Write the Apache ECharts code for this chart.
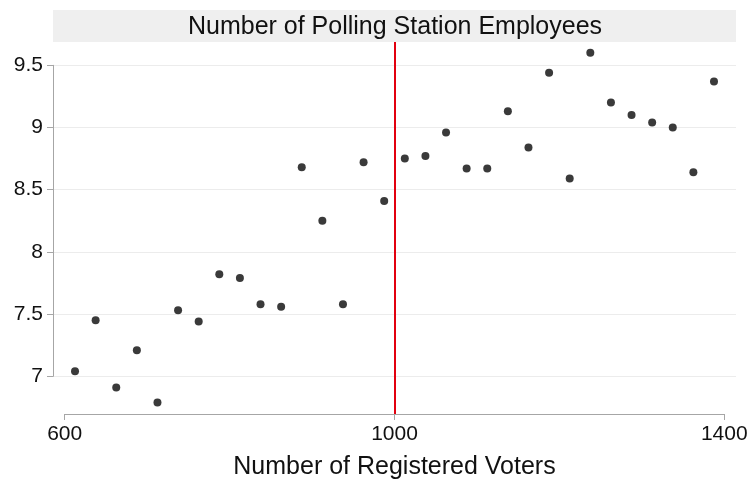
<!DOCTYPE html>
<html>
<head>
<meta charset="utf-8">
<script src="https://cdn.jsdelivr.net/npm/echarts@6/dist/echarts.min.js"></script>
<style>
html,body{margin:0;padding:0;background:#fff;}
#chart{width:750px;height:479px;}
</style>
</head>
<body>
<div id="chart"></div>
<script>
// Data
var registeredVoters = [612.5, 637.5, 662.5, 687.5, 712.5, 737.5, 762.5, 787.5, 812.5, 837.5,
  862.5, 887.5, 912.5, 937.5, 962.5, 987.5, 1012.5, 1037.5, 1062.5, 1087.5,
  1112.5, 1137.5, 1162.5, 1187.5, 1212.5, 1237.5, 1262.5, 1287.5, 1312.5, 1337.5,
  1362.5, 1387.5];
var employees = [7.04, 7.45, 6.91, 7.21, 6.79, 7.53, 7.44, 7.82, 7.79, 7.58,
  7.56, 8.68, 8.25, 7.58, 8.72, 8.41, 8.75, 8.77, 8.96, 8.67,
  8.67, 9.13, 8.84, 9.44, 8.59, 9.60, 9.20, 9.10, 9.04, 9.00,
  8.64, 9.37];
var cutoff = 1000;
var xTicks = [600, 1000, 1400];
var yTicks = [7, 7.5, 8, 8.5, 9, 9.5];
var titleText = 'Number of Polling Station Employees';
var xTitle = 'Number of Registered Voters';

var points = registeredVoters.map(function (x, i) { return [x, employees[i]]; });

var FONT = '"Liberation Sans", Arial, Helvetica, sans-serif';
var chart = echarts.init(document.getElementById('chart'), null, {renderer: 'canvas'});
var axisGray = '#a6a6a6';

var option = {
  animation: false,
  backgroundColor: '#ffffff',
  title: {
    text: titleText,
    left: 395, top: 15, padding: 0, textAlign: 'center',
    textStyle: {fontFamily: FONT, fontSize: 25, fontWeight: 'normal', color: '#111'}
  },
  graphic: [{
    type: 'rect', z: -1,
    shape: {x: 53, y: 10, width: 683, height: 32},
    style: {fill: '#efefef'}
  }],
  grid: [
    {left: 53, right: 14, top: 42, bottom: 65, outerBoundsMode: 'none', containLabel: false},
    {left: 64.7, right: 25.7, top: 42, bottom: 65, outerBoundsMode: 'none', containLabel: false},
    {left: 53, right: 14, top: 65.3, bottom: 102.7, outerBoundsMode: 'none', containLabel: false}
  ],
  xAxis: [
    {gridIndex: 0, type: 'value', min: 585.8, max: 1414.2, show: false},
    {gridIndex: 1, type: 'value', min: xTicks[0], max: xTicks[xTicks.length - 1], interval: xTicks[1] - xTicks[0],
      axisLine: {show: true, lineStyle: {color: axisGray, width: 1}},
      axisTick: {show: true, length: 6, lineStyle: {color: axisGray}},
      axisLabel: {fontFamily: FONT, fontSize: 21, color: '#111', margin: 10,
        formatter: function (v) { return String(v); }},
      splitLine: {show: false},
      name: xTitle, nameLocation: 'middle', nameGap: 41,
      nameTextStyle: {fontFamily: FONT, fontSize: 25, color: '#111'}
    },
    {gridIndex: 2, type: 'value', min: 585.8, max: 1414.2, show: false}
  ],
  yAxis: [
    {gridIndex: 0, type: 'value', min: 6.697, max: 9.687, show: false},
    {gridIndex: 1, type: 'value', min: 0, max: 1, show: false},
    {gridIndex: 2, type: 'value', min: yTicks[0], max: yTicks[yTicks.length - 1], interval: yTicks[1] - yTicks[0],
      axisLine: {show: true, lineStyle: {color: axisGray, width: 1}},
      axisTick: {show: true, length: 6, lineStyle: {color: axisGray}},
      axisLabel: {fontFamily: FONT, fontSize: 21, color: '#111', margin: 10,
        formatter: function (v) { return String(v); }},
      splitLine: {show: true, lineStyle: {color: '#ececec', width: 1}}
    }
  ],
  series: [{
    type: 'scatter',
    xAxisIndex: 0, yAxisIndex: 0,
    data: points,
    symbol: 'circle',
    symbolSize: 8,
    itemStyle: {color: '#3a3a3a', opacity: 1},
    clip: false,
    z: 3,
    markLine: {
      silent: true,
      symbol: ['none', 'none'],
      label: {show: false},
      lineStyle: {color: '#e2000f', width: 2, type: 'solid', opacity: 1},
      data: [{xAxis: cutoff}],
      z: 2
    }
  }]
};
chart.setOption(option);
</script>
</body>
</html>
